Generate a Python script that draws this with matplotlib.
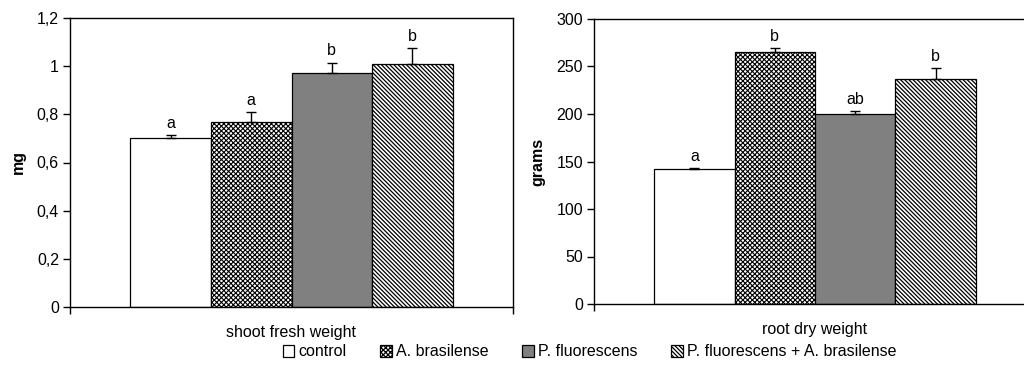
import numpy as np
import matplotlib
matplotlib.use("Agg")
import matplotlib.pyplot as plt

plt.rcParams['font.family'] = ['Liberation Sans', 'DejaVu Sans']

# data
treatments = ['control', 'A. brasilense', 'P. fluorescens', 'P. fluorescens + A. brasilense']

shoot_vals = [0.70, 0.77, 0.97, 1.01]
shoot_err = [0.015, 0.04, 0.045, 0.065]
shoot_letters = ['a', 'a', 'b', 'b']
shoot_ticks = [0, 0.2, 0.4, 0.6, 0.8, 1.0, 1.2]
shoot_ticklabels = ['0', '0,2', '0,4', '0,6', '0,8', '1', '1,2']

root_vals = [142, 265, 200, 237]
root_err = [1, 4, 3, 11]
root_letters = ['a', 'b', 'ab', 'b']
root_ticks = [0, 50, 100, 150, 200, 250, 300]
root_ticklabels = ['0', '50', '100', '150', '200', '250', '300']

colors = ['white', 'white', '#808080', 'white']
hatches = [None, 'xxxxxxx', None, '\\' * 8]
hatch_lw = [1.0, 0.8, 1.0, 0.9]

FS = 11.5
W, H = 1024, 367
fig = plt.figure(figsize=(W / 100, H / 100), dpi=100)
ax1 = fig.add_axes([70 / W, 1 - 307 / H, 443 / W, 289 / H])
ax2 = fig.add_axes([594 / W, 1 - 304 / H, 442 / W, 285 / H])


def draw_panel(ax, vals, err, letters, ticks, ticklabels, ylabel, xlabel, ymax):
    width = 0.182
    xs = (np.arange(len(vals)) - 1.5) * width
    bars = []
    for i in range(len(vals)):
        plt.rcParams['hatch.linewidth'] = hatch_lw[i]
        b = ax.bar(xs[i], vals[i], width=width, color=colors[i], hatch=hatches[i],
                   edgecolor='black', linewidth=0.9, label=treatments[i], zorder=2)
        bars.append(b)
        ax.errorbar(xs[i], vals[i], yerr=[[0], [err[i]]], fmt='none', ecolor='black',
                    elinewidth=1.0, capsize=3.5, capthick=1.0, zorder=3)
        ax.annotate(letters[i], (xs[i], vals[i] + err[i]), xytext=(0, 3),
                    textcoords='offset points', ha='center', va='bottom', fontsize=FS)
    ax.set_xlim(-0.5, 0.5)
    ax.set_ylim(0, ymax)
    ax.set_xticks([-0.5, 0.5])
    ax.set_xticklabels(['', ''])
    ax.set_yticks(ticks)
    ax.set_yticklabels(ticklabels, fontsize=FS)
    ax.tick_params(direction='out', length=5, width=1, pad=3)
    for s in ax.spines.values():
        s.set_linewidth(1.0)
    ax.set_ylabel(ylabel, fontsize=FS, fontweight='bold')
    ax.set_xlabel(xlabel, fontsize=FS, labelpad=5)
    return bars


bars = draw_panel(ax1, shoot_vals, shoot_err, shoot_letters, shoot_ticks, shoot_ticklabels,
                  'mg', 'shoot fresh weight', 1.2)
draw_panel(ax2, root_vals, root_err, root_letters, root_ticks, root_ticklabels,
           'grams', 'root dry weight', 300)

ax1.yaxis.set_label_coords(-0.1, 0.5)
ax2.yaxis.set_label_coords(-0.11, 0.5)

fig.legend(handles=bars, labels=treatments, loc='center', bbox_to_anchor=(0.576, 1 - 352 / H),
           ncol=4, frameon=False, fontsize=FS, handlelength=0.7, handleheight=0.7,
           handletextpad=0.3, columnspacing=2.1, borderpad=0)

fig.savefig('out.png', dpi=100)
